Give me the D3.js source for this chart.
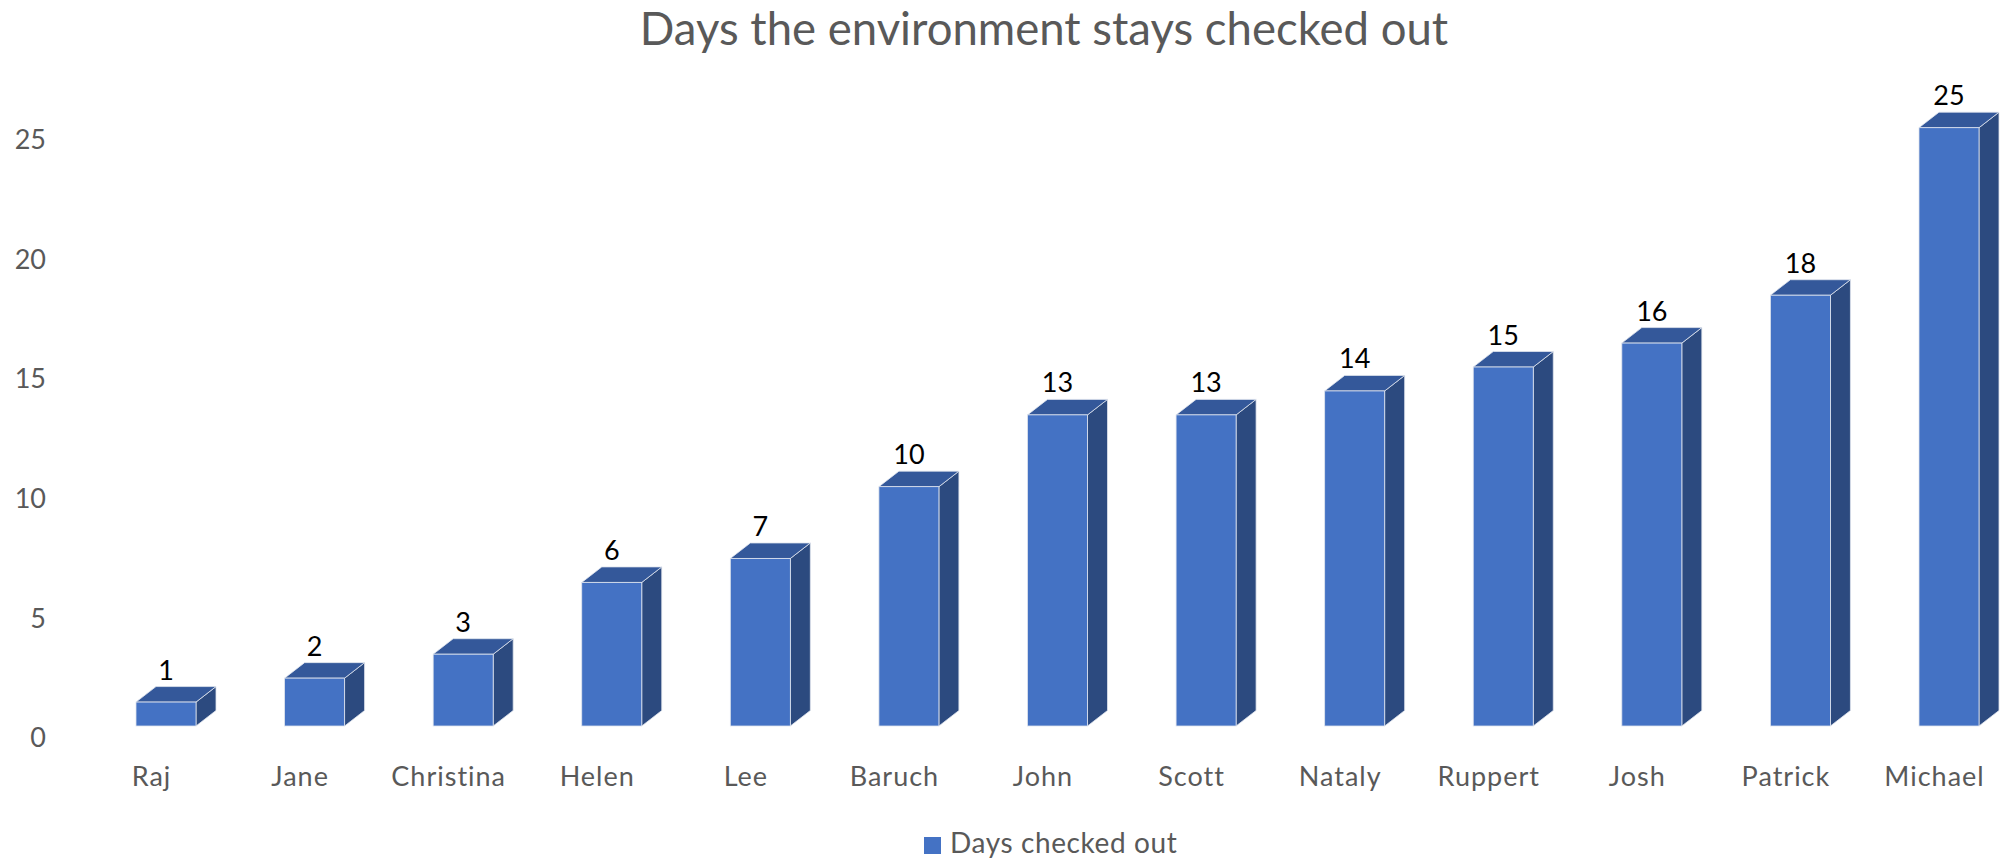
<!DOCTYPE html>
<html>
<head>
<meta charset="utf-8">
<script src="https://cdn.jsdelivr.net/npm/d3@7"></script>
<style>
  body { margin: 0; background: #fff; }
  text { font-family: Lato, "Open Sans", sans-serif; }
</style>
</head>
<body>
<script>
// chart data
var names = ["Raj", "Jane", "Christina", "Helen", "Lee", "Baruch", "John", "Scott", "Nataly", "Ruppert", "Josh", "Patrick", "Michael"];
var days = [1, 2, 3, 6, 7, 10, 13, 13, 14, 15, 16, 18, 25];
var yTicks = [0, 5, 10, 15, 20, 25];
var seriesName = "Days checked out";
var title = "Days the environment stays checked out";

var w = 2005, h = 859;
var barW = 60, dx = 20, dy = -15.5;

var svg = d3.select("body").append("svg")
    .attr("width", w)
    .attr("height", h);

var x = d3.scalePoint().domain(names).range([166, 1949]);
var y = d3.scaleLinear().domain([0, 25]).range([726, 127.7]);
// tick labels sit a bit below the front face level
var yLab = d3.scaleLinear().domain([0, 25]).range([738, 140]);

svg.append("text")
    .attr("x", 1044)
    .attr("y", 45)
    .attr("text-anchor", "middle")
    .style("font-size", "45.5px")
    .style("fill", "#595959")
    .text(title);

// y axis labels
var yAxis = svg.append("g")
    .attr("transform", "translate(46,0)")
    .call(d3.axisLeft(yLab).tickValues(yTicks).tickSize(0).tickPadding(0));
yAxis.select(".domain").remove();
yAxis.selectAll("text")
    .style("font-size", "27px")
    .style("fill", "#595959")
    .style("font-family", "Lato, sans-serif");

// x axis labels
var xAxis = svg.append("g")
    .attr("transform", "translate(-15,767)")
    .call(d3.axisBottom(x).tickSize(0).tickPadding(0));
xAxis.select(".domain").remove();
xAxis.selectAll("text")
    .attr("dy", "0.71em")
    .style("font-size", "27px")
    .style("letter-spacing", "1px")
    .style("fill", "#595959")
    .style("font-family", "Lato, sans-serif");

var bars = svg.append("g").selectAll("g")
    .data(names)
    .join("g");

function pts(a) { return a.map(function(p) { return p.join(","); }).join(" "); }

bars.append("polygon")
    .attr("points", function(d, i) {
        var x1 = x(d) + barW / 2, t = y(days[i]), b = y(0);
        return pts([[x1, t], [x1 + dx, t + dy], [x1 + dx, b + dy], [x1, b]]);
    })
    .style("fill", "#2C4A7F")
    .style("stroke", "#dfe4ee")
    .style("stroke-width", 0.8);

bars.append("polygon")
    .attr("points", function(d, i) {
        var x0 = x(d) - barW / 2, x1 = x(d) + barW / 2, t = y(days[i]);
        return pts([[x0, t], [x0 + dx, t + dy], [x1 + dx, t + dy], [x1, t]]);
    })
    .style("fill", "#34589A")
    .style("stroke", "#dfe4ee")
    .style("stroke-width", 0.8);

bars.append("rect")
    .attr("x", function(d) { return x(d) - barW / 2; })
    .attr("y", function(d, i) { return y(days[i]); })
    .attr("width", barW)
    .attr("height", function(d, i) { return y(0) - y(days[i]); })
    .style("fill", "#4472C4")
    .style("stroke", "#dfe4ee")
    .style("stroke-width", 0.8);

bars.append("text")
    .attr("x", function(d) { return x(d); })
    .attr("y", function(d, i) { return y(days[i]) + dy - 7; })
    .attr("text-anchor", "middle")
    .style("font-size", "27px")
    .style("fill", "#000")
    .text(function(d, i) { return days[i]; });

// legend
var leg = svg.append("g");
leg.append("rect")
    .attr("x", 924).attr("y", 837)
    .attr("width", 17).attr("height", 17)
    .style("fill", "#4472C4");
leg.append("text")
    .attr("x", 950).attr("y", 853)
    .style("font-size", "28px")
    .style("letter-spacing", "0.6px")
    .style("fill", "#595959")
    .text(seriesName);
</script>
</body>
</html>
